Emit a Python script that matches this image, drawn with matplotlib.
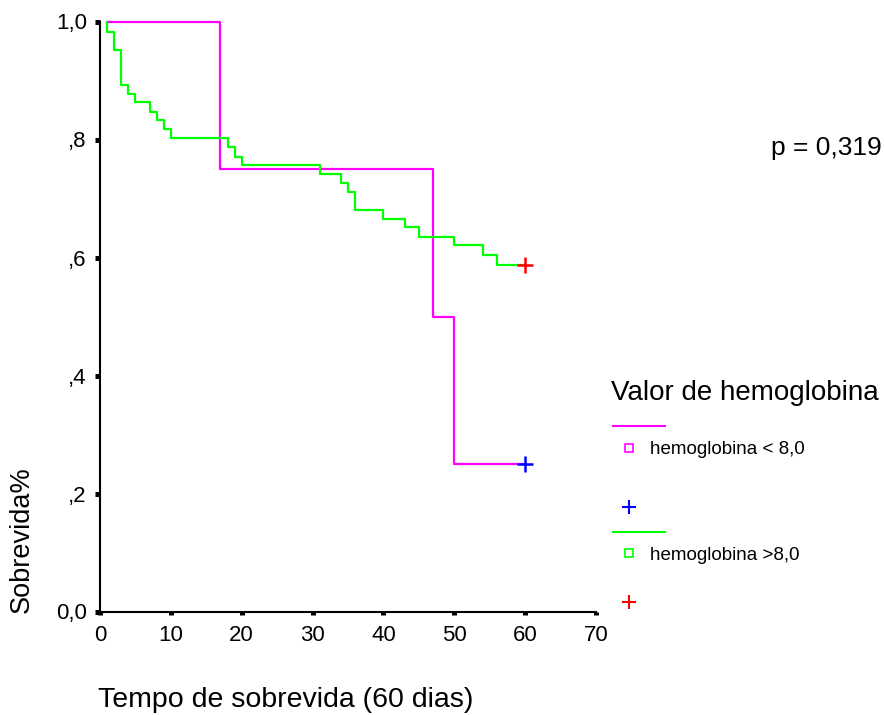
import matplotlib
matplotlib.use("Agg")
import matplotlib.pyplot as plt
from matplotlib.lines import Line2D

plt.rcParams['font.family'] = ['Liberation Sans', 'DejaVu Sans']

# Curvas de Kaplan-Meier (tempo em dias, sobrevida acumulada)
tempo_menor = [1, 17, 47, 50, 60]
sobrev_menor = [1.0, 0.75, 0.50, 0.25, 0.25]

tempo_maior = [1, 1, 2, 3, 4, 5, 7, 8, 9, 10, 18, 19, 20, 31, 34, 35, 36,
               40, 43, 45, 50, 54, 56, 60]
sobrev_maior = [1.0, 0.983, 0.952, 0.893, 0.877, 0.863, 0.847, 0.833, 0.818,
                0.803, 0.787, 0.771, 0.757, 0.741, 0.727, 0.711, 0.681, 0.665,
                0.651, 0.634, 0.621, 0.605, 0.588, 0.588]

# Observacoes censuradas
censura_menor = (60, 0.25)
censura_maior = (60, 0.588)

xticks = [0, 10, 20, 30, 40, 50, 60, 70]
yticks = [0.0, 0.2, 0.4, 0.6, 0.8, 1.0]
ytick_labels = ['0,0', ',2', ',4', ',6', ',8', '1,0']

cor_menor = '#ff00ff'
cor_maior = '#00ff00'

W, H = 884, 715
fig = plt.figure(figsize=(W / 100, H / 100), dpi=100)
ax = fig.add_axes([100 / W, 1 - 611.5 / H, 496 / W, 590 / H])


def fx(px):
    return px / W


def fy(py):
    return 1 - py / H


ax.step(tempo_menor, sobrev_menor, where='post', color=cor_menor, lw=1.6,
        clip_on=False, zorder=3)
ax.step(tempo_maior, sobrev_maior, where='post', color=cor_maior, lw=1.6,
        clip_on=False, zorder=4)
ax.plot(*censura_menor, marker='+', color='blue', ms=11, mew=1.8,
        clip_on=False, zorder=5)
ax.plot(*censura_maior, marker='+', color='red', ms=11, mew=1.8,
        clip_on=False, zorder=5)

ax.set_xlim(0, 70)
ax.set_ylim(0, 1)
ax.set_xticks(xticks)
ax.set_yticks(yticks)
ax.set_yticklabels(ytick_labels)

for lado in ['top', 'right']:
    ax.spines[lado].set_visible(False)
for lado in ['left', 'bottom']:
    ax.spines[lado].set_linewidth(1.5)

ax.tick_params(axis='x', direction='out', length=2.5, width=3.6, pad=7,
               labelsize=16)
ax.tick_params(axis='y', direction='out', length=3.5, width=3.6, pad=6,
               labelsize=16)

ax.set_xlabel('Tempo de sobrevida (60 dias)', fontsize=20.5, ha='left',
              va='center')
ax.xaxis.set_label_coords(-0.004, -0.15)
ax.set_ylabel('Sobrevida%', fontsize=19.5, va='center')
ax.yaxis.set_label_coords(-0.157, 0.121)

fig.text(fx(771), fy(148), 'p = 0,319', fontsize=19, ha='left', va='center')

# Legenda
fig.text(fx(611), fy(393), 'Valor de hemoglobina', fontsize=20,
         ha='left', va='center')
fig.add_artist(Line2D([fx(613), fx(665)], [fy(426), fy(426)],
                      color=cor_menor, lw=1.5))
fig.add_artist(Line2D([fx(629)], [fy(448)], marker='s', ms=5.5, mew=1.2,
                      mfc='none', mec=cor_menor))
fig.text(fx(650), fy(450), 'hemoglobina < 8,0', fontsize=13.5,
         ha='left', va='center')
fig.add_artist(Line2D([fx(629)], [fy(507)], marker='+', ms=10, mew=1.5,
                      color='blue'))
fig.add_artist(Line2D([fx(613), fx(665)], [fy(532), fy(532)],
                      color=cor_maior, lw=1.5))
fig.add_artist(Line2D([fx(629)], [fy(553)], marker='s', ms=5.5, mew=1.2,
                      mfc='none', mec=cor_maior))
fig.text(fx(650), fy(556), 'hemoglobina >8,0', fontsize=13.5,
         ha='left', va='center')
fig.add_artist(Line2D([fx(629)], [fy(602)], marker='+', ms=10, mew=1.5,
                      color='red'))

fig.savefig('out.png', dpi=100)
